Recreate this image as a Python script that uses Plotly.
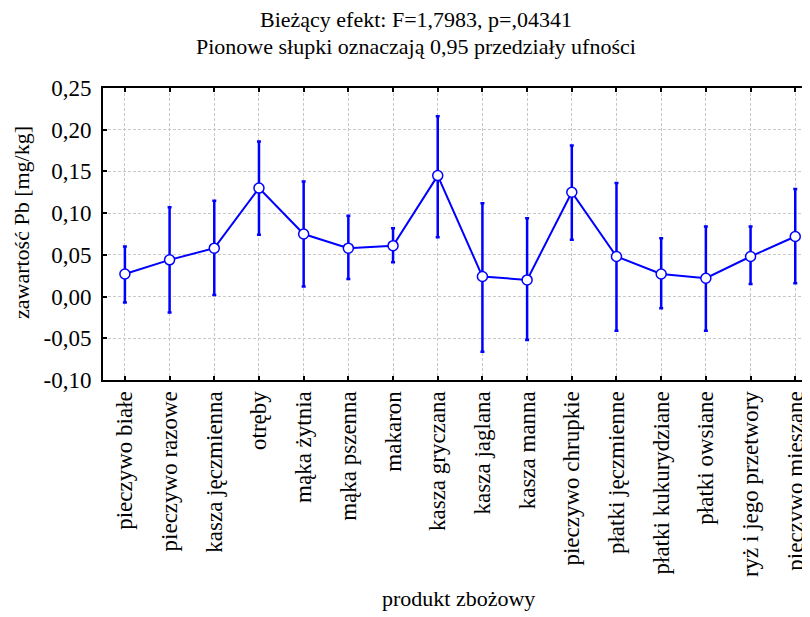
import plotly.graph_objects as go

categories = ["pieczywo białe", "pieczywo razowe", "kasza jęczmienna", "otręby",
              "mąka żytnia", "mąka pszenna", "makaron", "kasza gryczana",
              "kasza jaglana", "kasza manna", "pieczywo chrupkie", "płatki jęczmienne",
              "płatki kukurydziane", "płatki owsiane", "ryż i jego przetwory",
              "pieczywo mieszane"]
means = [0.027, 0.044, 0.058, 0.130, 0.075, 0.058, 0.061, 0.145,
         0.024, 0.020, 0.125, 0.048, 0.027, 0.022, 0.048, 0.072]
upper = [0.060, 0.107, 0.115, 0.186, 0.138, 0.097, 0.082, 0.216,
         0.112, 0.094, 0.181, 0.136, 0.070, 0.084, 0.084, 0.129]
lower = [-0.007, -0.019, 0.002, 0.074, 0.012, 0.021, 0.041, 0.071,
         -0.066, -0.052, 0.068, -0.041, -0.014, -0.041, 0.015, 0.016]
ytick_vals = [-0.10, -0.05, 0.00, 0.05, 0.10, 0.15, 0.20, 0.25]
ytick_text = ["-0,10", "-0,05", "0,00", "0,05", "0,10", "0,15", "0,20", "0,25"]

title1 = "Bieżący efekt: F=1,7983, p=,04341"
title2 = "Pionowe słupki oznaczają 0,95 przedziały ufności"
xtitle = "produkt zbożowy"
ytitle = "zawartość Pb [mg/kg]"

FONT = "Liberation Serif, Times New Roman, serif"
BLUE = "#0000ff"

err_plus = [u - m for u, m in zip(upper, means)]
err_minus = [m - l for m, l in zip(means, lower)]

fig = go.Figure()
fig.add_trace(go.Scatter(
    x=categories, y=means, mode="lines+markers",
    line=dict(color=BLUE, width=2),
    marker=dict(symbol="circle", size=10, color="white",
                line=dict(color=BLUE, width=1.5)),
    error_y=dict(type="data", symmetric=False, array=err_plus,
                 arrayminus=err_minus, color=BLUE, thickness=2.5, width=2),
    showlegend=False,
))

# page body has an 8px margin, so the figure is offset by (8, 8)
OFF = 8
W, H = 810 - OFF, 617 - OFF
L, T, B = 103 - OFF, 88 - OFF, 237
ph = H - T - B
pw = W - L

fig.update_layout(
    width=W, height=H,
    margin=dict(l=L, r=0, t=T, b=B, pad=0),
    paper_bgcolor="white", plot_bgcolor="white",
    font=dict(family=FONT, size=22, color="black"),
    showlegend=False,
)
fig.update_xaxes(
    type="category", range=[-0.49, 15.33],
    showline=True, linecolor="black", linewidth=2, mirror="ticks",
    ticks="inside", ticklen=4, tickwidth=2, tickcolor="black",
    tickangle=-90, tickfont=dict(family=FONT, size=23),
    showgrid=True, gridcolor="#c8c8c8", gridwidth=1, griddash="3px,2px",
    zeroline=False,
)
fig.update_yaxes(
    range=[-0.10, 0.25], tickvals=ytick_vals, ticktext=ytick_text,
    showline=True, linecolor="black", linewidth=2, mirror=False,
    ticks="inside", ticklen=4, tickwidth=2, tickcolor="black",
    tickfont=dict(family=FONT, size=23), ticklabelstandoff=5,
    showgrid=True, gridcolor="#c8c8c8", gridwidth=1, griddash="3px,2px",
    zeroline=False,
)

def px_to_paper_y(ypix):
    return (T + ph - (ypix - OFF)) / ph

def px_to_paper_x(xpix):
    return (xpix - OFF - L) / pw

annots = [
    dict(text=title1, x=px_to_paper_x(416), y=px_to_paper_y(20)),
    dict(text=title2, x=px_to_paper_x(416), y=px_to_paper_y(46)),
    dict(text=xtitle, x=px_to_paper_x(458), y=px_to_paper_y(598)),
    dict(text=ytitle, x=px_to_paper_x(21), y=px_to_paper_y(223), textangle=-90),
]
for a in annots:
    fig.add_annotation(xref="paper", yref="paper", showarrow=False,
                       xanchor="center", yanchor="middle",
                       font=dict(family=FONT, size=22, color="black"), **a)

fig.write_html("out.html")
